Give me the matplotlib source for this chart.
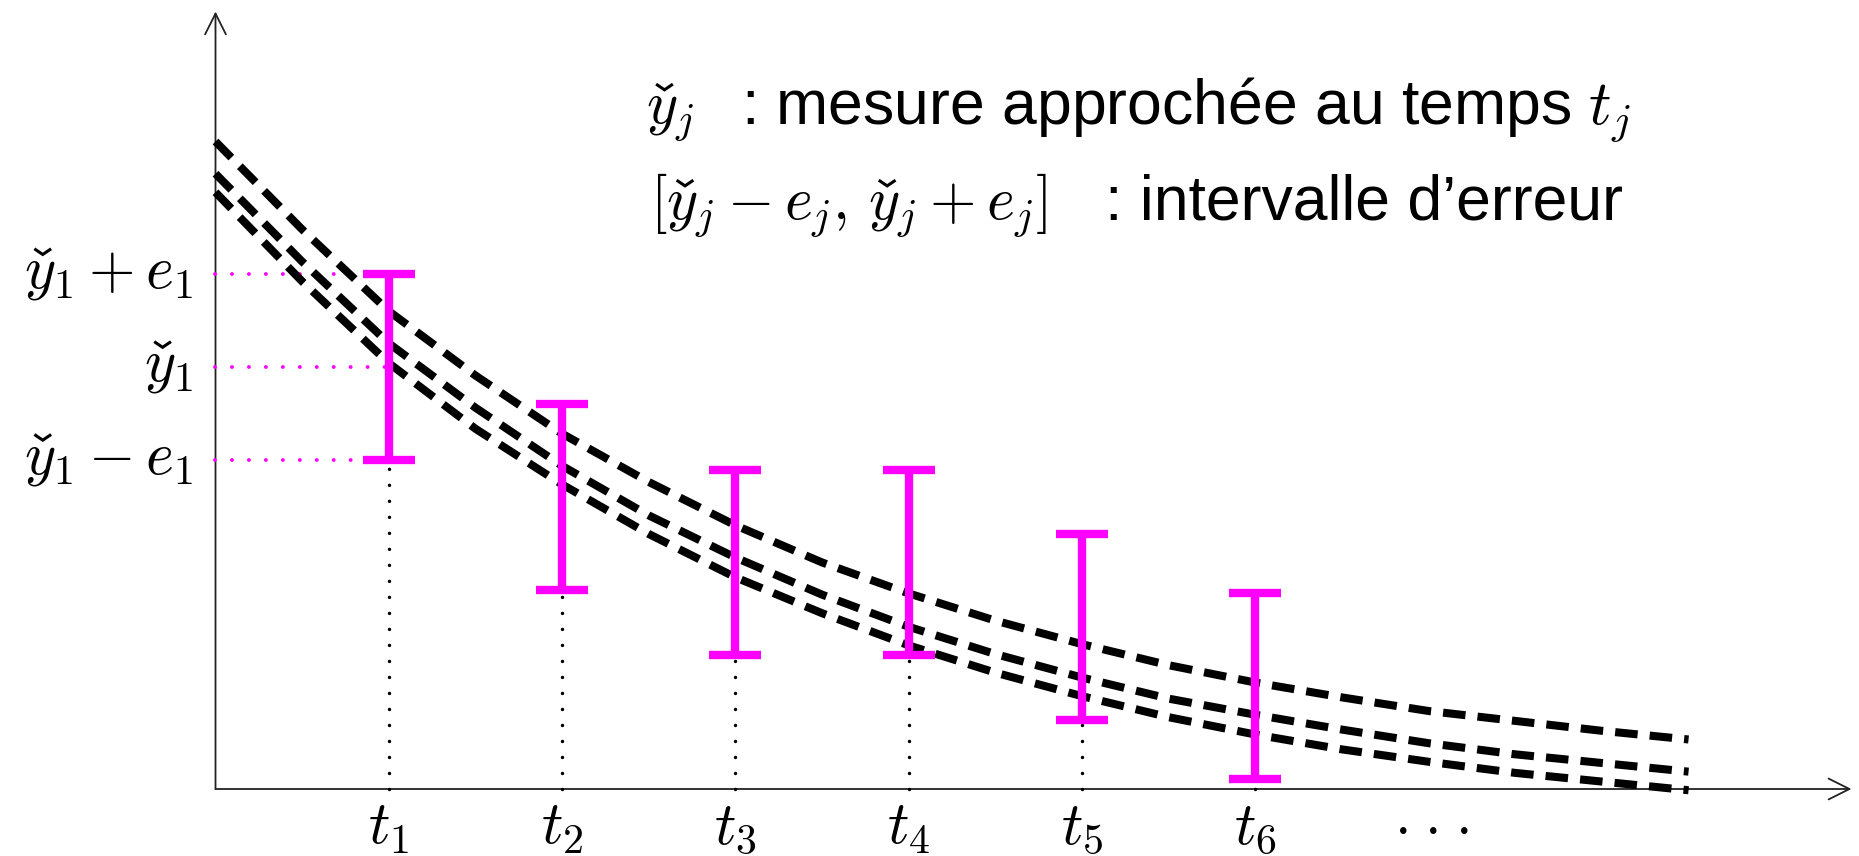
import matplotlib
matplotlib.use("Agg")
import matplotlib.pyplot as plt
from matplotlib.font_manager import FontProperties
from matplotlib.lines import Line2D
from matplotlib.transforms import IdentityTransform

plt.rcParams['mathtext.fontset'] = 'cm'
plt.rcParams['font.family'] = ['Liberation Sans', 'DejaVu Sans']

# ---------------- data ----------------
t_pos = [1, 2, 3, 4, 5, 6]
t_labels = [r'$t_1$', r'$t_2$', r'$t_3$', r'$t_4$', r'$t_5$', r'$t_6$']
y_check = [3.41, 2.36, 1.83, 1.83, 1.31, 0.83]
err = [0.75, 0.75, 0.75, 0.75, 0.75, 0.75]

curve_t = [0.0, 0.5, 1.0, 1.5, 2.0, 2.5, 3.0, 3.5, 4.0, 4.5,
           5.0, 5.5, 6.0, 6.5, 7.0, 7.5, 8.0, 8.5]
curve_top = [5.23, 4.52, 3.86, 3.34, 2.87, 2.48, 2.13, 1.83, 1.58, 1.36,
             1.17, 1.00, 0.86, 0.74, 0.63, 0.55, 0.47, 0.40]
curve_mid = [4.97, 4.26, 3.60, 3.08, 2.61, 2.21, 1.87, 1.57, 1.31, 1.09,
             0.90, 0.73, 0.60, 0.48, 0.37, 0.28, 0.21, 0.14]
curve_low = [4.82, 4.10, 3.44, 2.91, 2.46, 2.06, 1.71, 1.42, 1.16, 0.94,
             0.75, 0.58, 0.44, 0.32, 0.22, 0.13, 0.06, -0.01]

# labels (the caron accent of y-check is drawn separately, see below)
y_labels = [r'$y_1 + e_1$', r'$y_1$', r'$y_1 - e_1$']
legend_math = [r'$y_j$', r'$[y_j - e_j,\, y_j + e_j]$']
legend_text = [r': mesure approchée au temps $t_j$', ': intervalle d’erreur']
dots_pos = [6.84, 7.01, 7.19]

# ---------------- figure ----------------
fig = plt.figure(figsize=(18.59, 8.56), dpi=100)
ax = fig.add_axes([0, 0, 1, 1])
ax.set_xlim(-1.2435, 9.4836)
ax.set_ylim(-0.5412, 6.3732)
ax.axis('off')

MAG = '#ff00ff'
FS_M = 43      # math labels
FS_T = 45      # sans-serif legend text
EM = FS_M * fig.dpi / 72.0

renderer = fig.canvas.get_renderer()
fp_math = FontProperties(family=['Liberation Sans', 'DejaVu Sans'], size=FS_M,
                         math_fontfamily='cm')


def mwidth(s):
    w, h, d = renderer.get_text_width_height_descent(s, fp_math, ismath=True)
    return w


def to_px(x, y):
    return ax.transData.transform((x, y))


def caron(x0_px, base_px):
    cx = x0_px + 0.31 * EM
    xs = [cx - 0.14 * EM, cx, cx + 0.14 * EM]
    ys = [base_px + 0.65 * EM, base_px + 0.555 * EM, base_px + 0.65 * EM]
    fig.add_artist(Line2D(xs, ys, transform=IdentityTransform(), color='black',
                          lw=2.2, solid_joinstyle='miter',
                          solid_capstyle='butt', zorder=6))


W_Y = mwidth(r'$y$')

# axes with arrows
arrow_kw = dict(arrowstyle='->,head_length=0.6,head_width=0.3', lw=1.3,
                color='#222222', shrinkA=0, shrinkB=0, mutation_scale=25)
ax.annotate('', xy=(9.44, 0), xytext=(0, 0), arrowprops=arrow_kw, zorder=1)
ax.annotate('', xy=(0, 6.28), xytext=(0, 0), arrowprops=arrow_kw, zorder=1)

# dashed curves
for cy in (curve_top, curve_mid, curve_low):
    ax.plot(curve_t, cy, color='black', lw=5.8, linestyle=(0, (2.8, 1.5)),
            dash_capstyle='butt', zorder=2)

# black dotted verticals
for t, y, e in zip(t_pos, y_check, err):
    ax.plot([t, t], [0, y - e], color='black', lw=2.5,
            linestyle=(0, (0.01, 4.6)), dash_capstyle='round', zorder=1)

# magenta dotted guides
levels = [y_check[0] + err[0], y_check[0], y_check[0] - err[0]]
for lvl in levels:
    ax.plot([0, t_pos[0]], [lvl, lvl], color=MAG, lw=2.8,
            linestyle=(0, (0.01, 4.35)), dash_capstyle='round', zorder=1)

# error bars
ax.errorbar(t_pos, y_check, yerr=err, fmt='none', ecolor=MAG,
            elinewidth=6, capsize=18.7, capthick=6, zorder=4)

# y labels with caron
lab_x = -0.13
for lvl, lab in zip(levels, y_labels):
    yb = lvl - 0.11
    ax.text(lab_x, yb, lab, ha='right', va='baseline', fontsize=FS_M)
    ax_px, base_px = to_px(lab_x, yb)
    caron(ax_px - mwidth(lab), base_px)

# t labels
for t, lab in zip(t_pos, t_labels):
    ax.text(t, -0.444, lab, ha='center', va='baseline', fontsize=FS_M)
for dx in dots_pos:
    ax.text(dx, -0.444, r'$\cdot$', ha='center', va='baseline', fontsize=FS_M)

# legend
l1x, l1y = 2.484, 5.38
l2x, l2y = 2.507, 4.604
ax.text(l1x, l1y, legend_math[0], ha='left', va='baseline', fontsize=FS_M)
ax.text(3.03, l1y, legend_text[0], ha='left', va='baseline', fontsize=FS_T)
ax.text(l2x, l2y, legend_math[1], ha='left', va='baseline', fontsize=FS_M)
ax.text(5.13, l2y, legend_text[1], ha='left', va='baseline', fontsize=FS_T)

px1, b1 = to_px(l1x, l1y)
caron(px1, b1)
px2, b2 = to_px(l2x, l2y)
# ink-left of each y = ink-right of the prefix ending with that y minus ink width of y
caron(px2 + mwidth(r'$[y$') - W_Y, b2)
caron(px2 + mwidth(r'$[y_j - e_j,\, y$') - W_Y, b2)

fig.savefig('out.png', dpi=100)
